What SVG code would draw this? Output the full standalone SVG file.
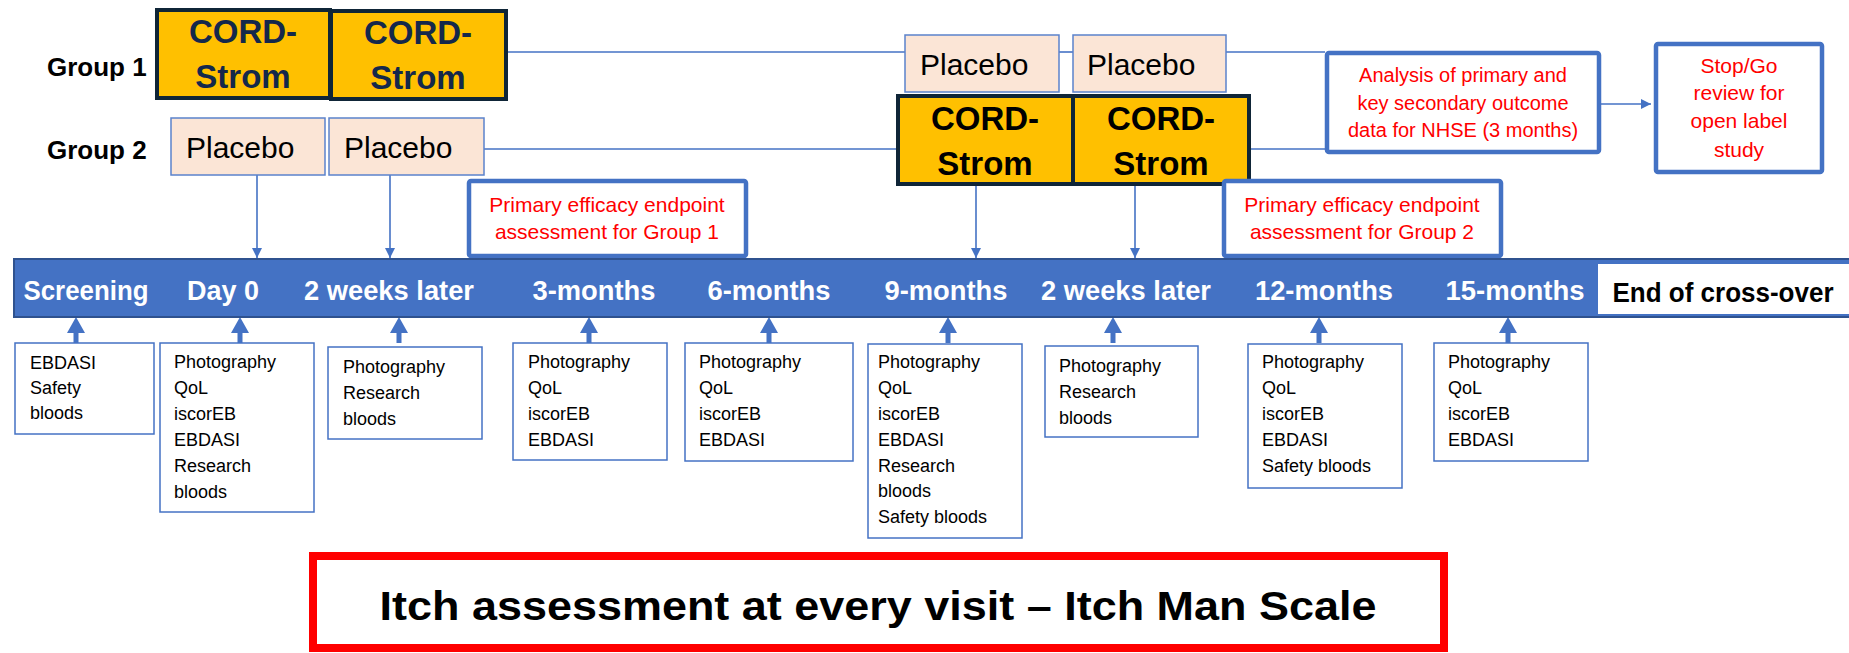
<svg xmlns="http://www.w3.org/2000/svg" width="1849" height="653" viewBox="0 0 1849 653">
<defs>
<style>
.grp{font-family:"Liberation Sans",Arial,sans-serif;font-weight:bold;font-size:26px;fill:#000}
.cord{fill:#FFC000;stroke:#0F2537;stroke-width:4}
.cordt{font-family:"Liberation Sans",Arial,sans-serif;font-weight:bold;font-size:33px;text-anchor:middle}
.plac{fill:#FBE5D6;stroke:#5B82CC;stroke-width:1.5}
.plact{font-family:"Liberation Sans",Arial,sans-serif;font-size:30px;fill:#000}
.line{stroke:#4472C4;stroke-width:1.6;fill:none}
.redbox{fill:#fff;stroke:#4472C4;stroke-width:4.5}
.redt{font-family:"Liberation Sans",Arial,sans-serif;font-size:21px;fill:#FF0000;text-anchor:middle}
.tl{font-family:"Liberation Sans",Arial,sans-serif;font-weight:bold;font-size:27px;fill:#fff;text-anchor:middle}
.item{fill:#fff;stroke:#4472C4;stroke-width:1.5}
.itemt{font-family:"Liberation Sans",Arial,sans-serif;font-size:18px;fill:#000}
.up{fill:#4472C4}
</style>
<marker id="ah" viewBox="0 0 10 10" refX="10" refY="5" markerWidth="10" markerHeight="10" markerUnits="userSpaceOnUse" orient="auto">
<path d="M0,0 L10,5 L0,10 z" fill="#4472C4"/>
</marker>
<symbol id="uparrow" overflow="visible">
<path d="M0,0 L9,16 L2.5,16 L2.5,26 L-2.5,26 L-2.5,16 L-9,16 z"/>
</symbol>
</defs>
<rect width="1849" height="653" fill="#fff"/>

<g id="connectors">
<line class="line" x1="427" y1="52" x2="905" y2="52"/>
<line class="line" x1="1059" y1="52" x2="1073" y2="52"/>
<line class="line" x1="1226" y1="52" x2="1325" y2="52"/>
<line class="line" x1="484" y1="149" x2="898" y2="149"/>
<line class="line" x1="1249" y1="149" x2="1325" y2="149"/>
<line class="line" x1="257" y1="175" x2="257" y2="258" marker-end="url(#ah)"/>
<line class="line" x1="390" y1="175" x2="390" y2="258" marker-end="url(#ah)"/>
<line class="line" x1="976" y1="184" x2="976" y2="258" marker-end="url(#ah)"/>
<line class="line" x1="1135" y1="184" x2="1135" y2="258" marker-end="url(#ah)"/>
<line class="line" x1="1585" y1="104" x2="1651" y2="104" marker-end="url(#ah)"/>
<g class="up">
<use href="#uparrow" x="76" y="317"/>
<use href="#uparrow" x="240" y="317"/>
<use href="#uparrow" x="399" y="317"/>
<use href="#uparrow" x="589" y="317"/>
<use href="#uparrow" x="769" y="317"/>
<use href="#uparrow" x="948" y="317"/>
<use href="#uparrow" x="1113" y="317"/>
<use href="#uparrow" x="1319" y="317"/>
<use href="#uparrow" x="1508" y="317"/>
</g>
</g>

<g id="group1-label"><text class="grp" x="47" y="76">Group 1</text></g>
<g id="group2-label"><text class="grp" x="47" y="159">Group 2</text></g>

<g id="g1-cord1"><rect class="cord" x="157" y="10" width="173" height="88"/>
<text class="cordt" x="243" y="43" fill="#14284B">CORD-</text><text class="cordt" x="243" y="88" fill="#14284B">Strom</text></g>
<g id="g1-cord2"><rect class="cord" x="331" y="11" width="175" height="88"/>
<text class="cordt" x="418" y="44" fill="#14284B">CORD-</text><text class="cordt" x="418" y="89" fill="#14284B">Strom</text></g>

<g id="g2-placebo1"><rect class="plac" x="171" y="118" width="154" height="57"/><text class="plact" x="186" y="158">Placebo</text></g>
<g id="g2-placebo2"><rect class="plac" x="329" y="118" width="155" height="57"/><text class="plact" x="344" y="158">Placebo</text></g>

<g id="g1-placebo3"><rect class="plac" x="905" y="35" width="154" height="57"/><text class="plact" x="920" y="75">Placebo</text></g>
<g id="g1-placebo4"><rect class="plac" x="1073" y="35" width="153" height="57"/><text class="plact" x="1087" y="75">Placebo</text></g>

<g id="g2-cord3"><rect class="cord" x="898" y="96" width="175" height="88"/>
<text class="cordt" x="985" y="130" fill="#000">CORD-</text><text class="cordt" x="985" y="175" fill="#000">Strom</text></g>
<g id="g2-cord4"><rect class="cord" x="1073" y="96" width="176" height="88"/>
<text class="cordt" x="1161" y="130" fill="#000">CORD-</text><text class="cordt" x="1161" y="175" fill="#000">Strom</text></g>

<g id="primary-g1"><rect class="redbox" x="469" y="181" width="277" height="75" rx="2"/>
<text class="redt" x="607" y="212">Primary efficacy endpoint</text><text class="redt" x="607" y="239">assessment for Group 1</text></g>
<g id="primary-g2"><rect class="redbox" x="1224" y="181" width="277" height="75" rx="2"/>
<text class="redt" x="1362" y="212">Primary efficacy endpoint</text><text class="redt" x="1362" y="239">assessment for Group 2</text></g>

<g id="analysis"><rect class="redbox" x="1327" y="53" width="272" height="99" rx="2"/>
<text class="redt" x="1463" y="82" style="font-size:20px">Analysis of primary and</text><text class="redt" x="1463" y="110" style="font-size:20px">key secondary outcome</text><text class="redt" x="1463" y="137" style="font-size:20px">data for NHSE (3 months)</text></g>
<g id="stopgo"><rect class="redbox" x="1656" y="44" width="166" height="128" rx="2"/>
<text class="redt" x="1739" y="73">Stop/Go</text><text class="redt" x="1739" y="100">review for</text><text class="redt" x="1739" y="128">open label</text><text class="redt" x="1739" y="157">study</text></g>

<g id="timeline">
<rect x="14" y="259" width="1840" height="58" fill="#4472C4" stroke="#2F528F" stroke-width="2"/>
<rect x="1598" y="264" width="256" height="50" fill="#fff"/>
<text class="tl" x="86" y="300" textLength="125" lengthAdjust="spacingAndGlyphs">Screening</text>
<text class="tl" x="223" y="300" textLength="72" lengthAdjust="spacingAndGlyphs">Day 0</text>
<text class="tl" x="389" y="300" textLength="170" lengthAdjust="spacingAndGlyphs">2 weeks later</text>
<text class="tl" x="594" y="300" textLength="123" lengthAdjust="spacingAndGlyphs">3-months</text>
<text class="tl" x="769" y="300" textLength="123" lengthAdjust="spacingAndGlyphs">6-months</text>
<text class="tl" x="946" y="300" textLength="123" lengthAdjust="spacingAndGlyphs">9-months</text>
<text class="tl" x="1126" y="300" textLength="170" lengthAdjust="spacingAndGlyphs">2 weeks later</text>
<text class="tl" x="1324" y="300" textLength="138" lengthAdjust="spacingAndGlyphs">12-months</text>
<text class="tl" x="1515" y="300" textLength="139" lengthAdjust="spacingAndGlyphs">15-months</text>
<text class="tl" x="1723" y="302" style="fill:#000" textLength="221" lengthAdjust="spacingAndGlyphs">End of cross-over</text>
</g>

<g id="box-screening"><rect class="item" x="15" y="343" width="139" height="91"/>
<text class="itemt" x="30" y="369">EBDASI</text><text class="itemt" x="30" y="394">Safety</text><text class="itemt" x="30" y="419">bloods</text></g>
<g id="box-day0"><rect class="item" x="160" y="343" width="154" height="169"/>
<text class="itemt" x="174" y="368">Photography</text><text class="itemt" x="174" y="394">QoL</text><text class="itemt" x="174" y="420">iscorEB</text><text class="itemt" x="174" y="446">EBDASI</text><text class="itemt" x="174" y="472">Research</text><text class="itemt" x="174" y="498">bloods</text></g>
<g id="box-2weeks-a"><rect class="item" x="328" y="347" width="154" height="92"/>
<text class="itemt" x="343" y="373">Photography</text><text class="itemt" x="343" y="399">Research</text><text class="itemt" x="343" y="425">bloods</text></g>
<g id="box-3months"><rect class="item" x="513" y="343" width="154" height="117"/>
<text class="itemt" x="528" y="368">Photography</text><text class="itemt" x="528" y="394">QoL</text><text class="itemt" x="528" y="420">iscorEB</text><text class="itemt" x="528" y="446">EBDASI</text></g>
<g id="box-6months"><rect class="item" x="685" y="343" width="168" height="118"/>
<text class="itemt" x="699" y="368">Photography</text><text class="itemt" x="699" y="394">QoL</text><text class="itemt" x="699" y="420">iscorEB</text><text class="itemt" x="699" y="446">EBDASI</text></g>
<g id="box-9months"><rect class="item" x="868" y="344" width="154" height="194"/>
<text class="itemt" x="878" y="368">Photography</text><text class="itemt" x="878" y="394">QoL</text><text class="itemt" x="878" y="420">iscorEB</text><text class="itemt" x="878" y="446">EBDASI</text><text class="itemt" x="878" y="472">Research</text><text class="itemt" x="878" y="497">bloods</text><text class="itemt" x="878" y="523">Safety bloods</text></g>
<g id="box-2weeks-b"><rect class="item" x="1045" y="346" width="153" height="91"/>
<text class="itemt" x="1059" y="372">Photography</text><text class="itemt" x="1059" y="398">Research</text><text class="itemt" x="1059" y="424">bloods</text></g>
<g id="box-12months"><rect class="item" x="1248" y="344" width="154" height="144"/>
<text class="itemt" x="1262" y="368">Photography</text><text class="itemt" x="1262" y="394">QoL</text><text class="itemt" x="1262" y="420">iscorEB</text><text class="itemt" x="1262" y="446">EBDASI</text><text class="itemt" x="1262" y="472">Safety bloods</text></g>
<g id="box-15months"><rect class="item" x="1434" y="343" width="154" height="118"/>
<text class="itemt" x="1448" y="368">Photography</text><text class="itemt" x="1448" y="394">QoL</text><text class="itemt" x="1448" y="420">iscorEB</text><text class="itemt" x="1448" y="446">EBDASI</text></g>

<g id="itch"><rect x="313" y="556" width="1131" height="92" fill="#fff" stroke="#FF0000" stroke-width="8"/>
<text x="878" y="620" text-anchor="middle" font-family="'Liberation Sans',Arial,sans-serif" font-weight="bold" font-size="40" textLength="997" lengthAdjust="spacingAndGlyphs">Itch assessment at every visit – Itch Man Scale</text></g>
</svg>
